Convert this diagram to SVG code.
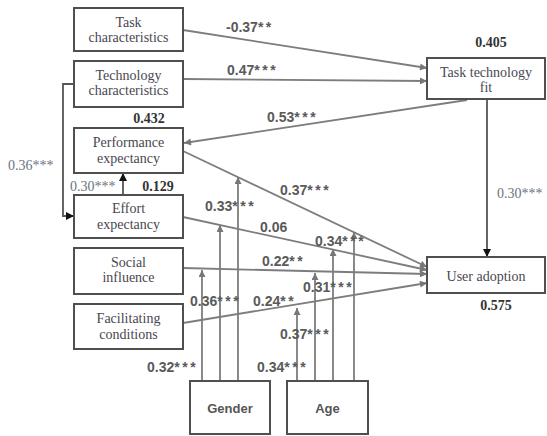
<svg xmlns="http://www.w3.org/2000/svg" width="547" height="436" viewBox="0 0 547 436">
<style>
.box{fill:#fff;stroke:#4f4f4f;stroke-width:2}
.bt{font-size:14px;fill:#4a4750;text-anchor:middle}
.mt{font-family:'Liberation Sans',Arial,sans-serif;font-size:13px;font-weight:bold;fill:#555;text-anchor:middle}
.lb{font-family:'Liberation Sans',Arial,sans-serif;font-size:14px;font-weight:bold;fill:#5a5a5a}
.st{letter-spacing:2.5px}
.sl{font-size:14px;fill:#6b7480}
.r2{font-size:14px;font-weight:bold;fill:#333;text-anchor:middle}
.ln{fill:none;stroke:#7d7d7d;stroke-width:1.8}
.lk{fill:none;stroke:#555;stroke-width:1.8}
</style>
<defs>
<marker id="ag" viewBox="0 0 10 10" refX="10" refY="5" markerWidth="8" markerHeight="7" markerUnits="userSpaceOnUse" orient="auto"><path d="M0,0 L10,5 L0,10 z" fill="#777"/></marker>
<marker id="ab" viewBox="0 0 10 10" refX="10" refY="5" markerWidth="9" markerHeight="8" markerUnits="userSpaceOnUse" orient="auto"><path d="M0,0 L10,5 L0,10 z" fill="#111"/></marker>
</defs>
<rect width="547" height="436" fill="#fff"/>
<g id="connectors">
<line class="ln" x1="183" y1="30" x2="427" y2="68" marker-end="url(#ag)"/>
<line class="ln" x1="183" y1="79" x2="427" y2="81" marker-end="url(#ag)"/>
<line class="ln" x1="467" y1="100" x2="184" y2="143" marker-end="url(#ag)"/>
<line class="lk" x1="487" y1="99" x2="487" y2="257" marker-end="url(#ab)"/>
<polyline class="lk" points="74,84 63,84 63,216 74,216" marker-end="url(#ab)"/>
<line class="lk" x1="123" y1="195" x2="123" y2="173" marker-end="url(#ab)"/>
<line class="ln" x1="183" y1="151" x2="427" y2="267" marker-end="url(#ag)"/>
<line class="ln" x1="183" y1="217" x2="427" y2="270" marker-end="url(#ag)"/>
<line class="ln" x1="183" y1="268" x2="427" y2="274" marker-end="url(#ag)"/>
<line class="ln" x1="183" y1="323" x2="427" y2="283" marker-end="url(#ag)"/>
<line class="ln" x1="202" y1="381" x2="202" y2="270" marker-end="url(#ag)"/>
<line class="ln" x1="220" y1="381" x2="220" y2="225" marker-end="url(#ag)"/>
<line class="ln" x1="238" y1="381" x2="238" y2="177" marker-end="url(#ag)"/>
<line class="ln" x1="297" y1="381" x2="297" y2="308" marker-end="url(#ag)"/>
<line class="ln" x1="315" y1="381" x2="315" y2="273" marker-end="url(#ag)"/>
<line class="ln" x1="333" y1="381" x2="333" y2="249" marker-end="url(#ag)"/>
<line class="ln" x1="354" y1="381" x2="354" y2="232" marker-end="url(#ag)"/>
</g>
<g font-family="Liberation Serif, DejaVu Serif, serif">
<g id="task"><rect class="box" x="74" y="8" width="109" height="43"/><text class="bt" x="128.5" y="27">Task</text><text class="bt" x="128.5" y="42">characteristics</text></g>
<g id="tech"><rect class="box" x="74" y="61" width="109" height="46"/><text class="bt" x="128.5" y="80">Technology</text><text class="bt" x="128.5" y="95">characteristics</text></g>
<g id="perf"><rect class="box" x="74" y="128" width="109" height="45"/><text class="bt" x="128.5" y="147">Performance</text><text class="bt" x="128.5" y="163">expectancy</text></g>
<g id="effort"><rect class="box" x="74" y="195" width="109" height="43"/><text class="bt" x="128.5" y="213">Effort</text><text class="bt" x="128.5" y="229">expectancy</text></g>
<g id="social"><rect class="box" x="74" y="248" width="109" height="46"/><text class="bt" x="128.5" y="267">Social</text><text class="bt" x="128.5" y="282">influence</text></g>
<g id="facil"><rect class="box" x="74" y="304" width="109" height="45"/><text class="bt" x="128.5" y="323">Facilitating</text><text class="bt" x="128.5" y="339">conditions</text></g>
<g id="ttf"><rect class="box" x="427" y="58" width="118" height="41"/><text class="bt" x="486" y="77">Task technology</text><text class="bt" x="486" y="92">fit</text></g>
<g id="ua"><rect class="box" x="427" y="257" width="118" height="36"/><text class="bt" x="486" y="281">User adoption</text></g>
<text class="r2" x="491" y="47">0.405</text>
<text class="r2" x="496" y="310">0.575</text>
<text class="r2" x="149" y="123">0.432</text>
<text class="r2" x="158" y="191">0.129</text>
<text class="sl" x="8" y="170">0.36***</text>
<text class="sl" x="70" y="191">0.30***</text>
<text class="sl" x="497" y="198">0.30***</text>
</g>
<g id="gender"><rect class="box" x="190" y="381" width="80" height="53"/><text class="mt" x="230" y="413">Gender</text></g>
<g id="age"><rect class="box" x="287" y="381" width="81" height="53"/><text class="mt" x="327.5" y="413">Age</text></g>
<g id="labels">
<text class="lb" x="226" y="32">-0.37<tspan class="st">**</tspan></text>
<text class="lb" x="227" y="75">0.47<tspan class="st">***</tspan></text>
<text class="lb" x="267" y="122">0.53<tspan class="st">***</tspan></text>
<text class="lb" x="280" y="195">0.37<tspan class="st">***</tspan></text>
<text class="lb" x="205" y="211">0.33<tspan class="st">***</tspan></text>
<text class="lb" x="260" y="232">0.06</text>
<text class="lb" x="315" y="246">0.34<tspan class="st">***</tspan></text>
<text class="lb" x="262" y="266">0.22<tspan class="st">**</tspan></text>
<text class="lb" x="303" y="292">0.31<tspan class="st">***</tspan></text>
<text class="lb" x="190" y="306">0.36<tspan class="st">***</tspan></text>
<text class="lb" x="253" y="306">0.24<tspan class="st">**</tspan></text>
<text class="lb" x="280" y="339">0.37<tspan class="st">***</tspan></text>
<text class="lb" x="147" y="372">0.32<tspan class="st">***</tspan></text>
<text class="lb" x="257" y="372">0.34<tspan class="st">***</tspan></text>
</g>
</svg>
